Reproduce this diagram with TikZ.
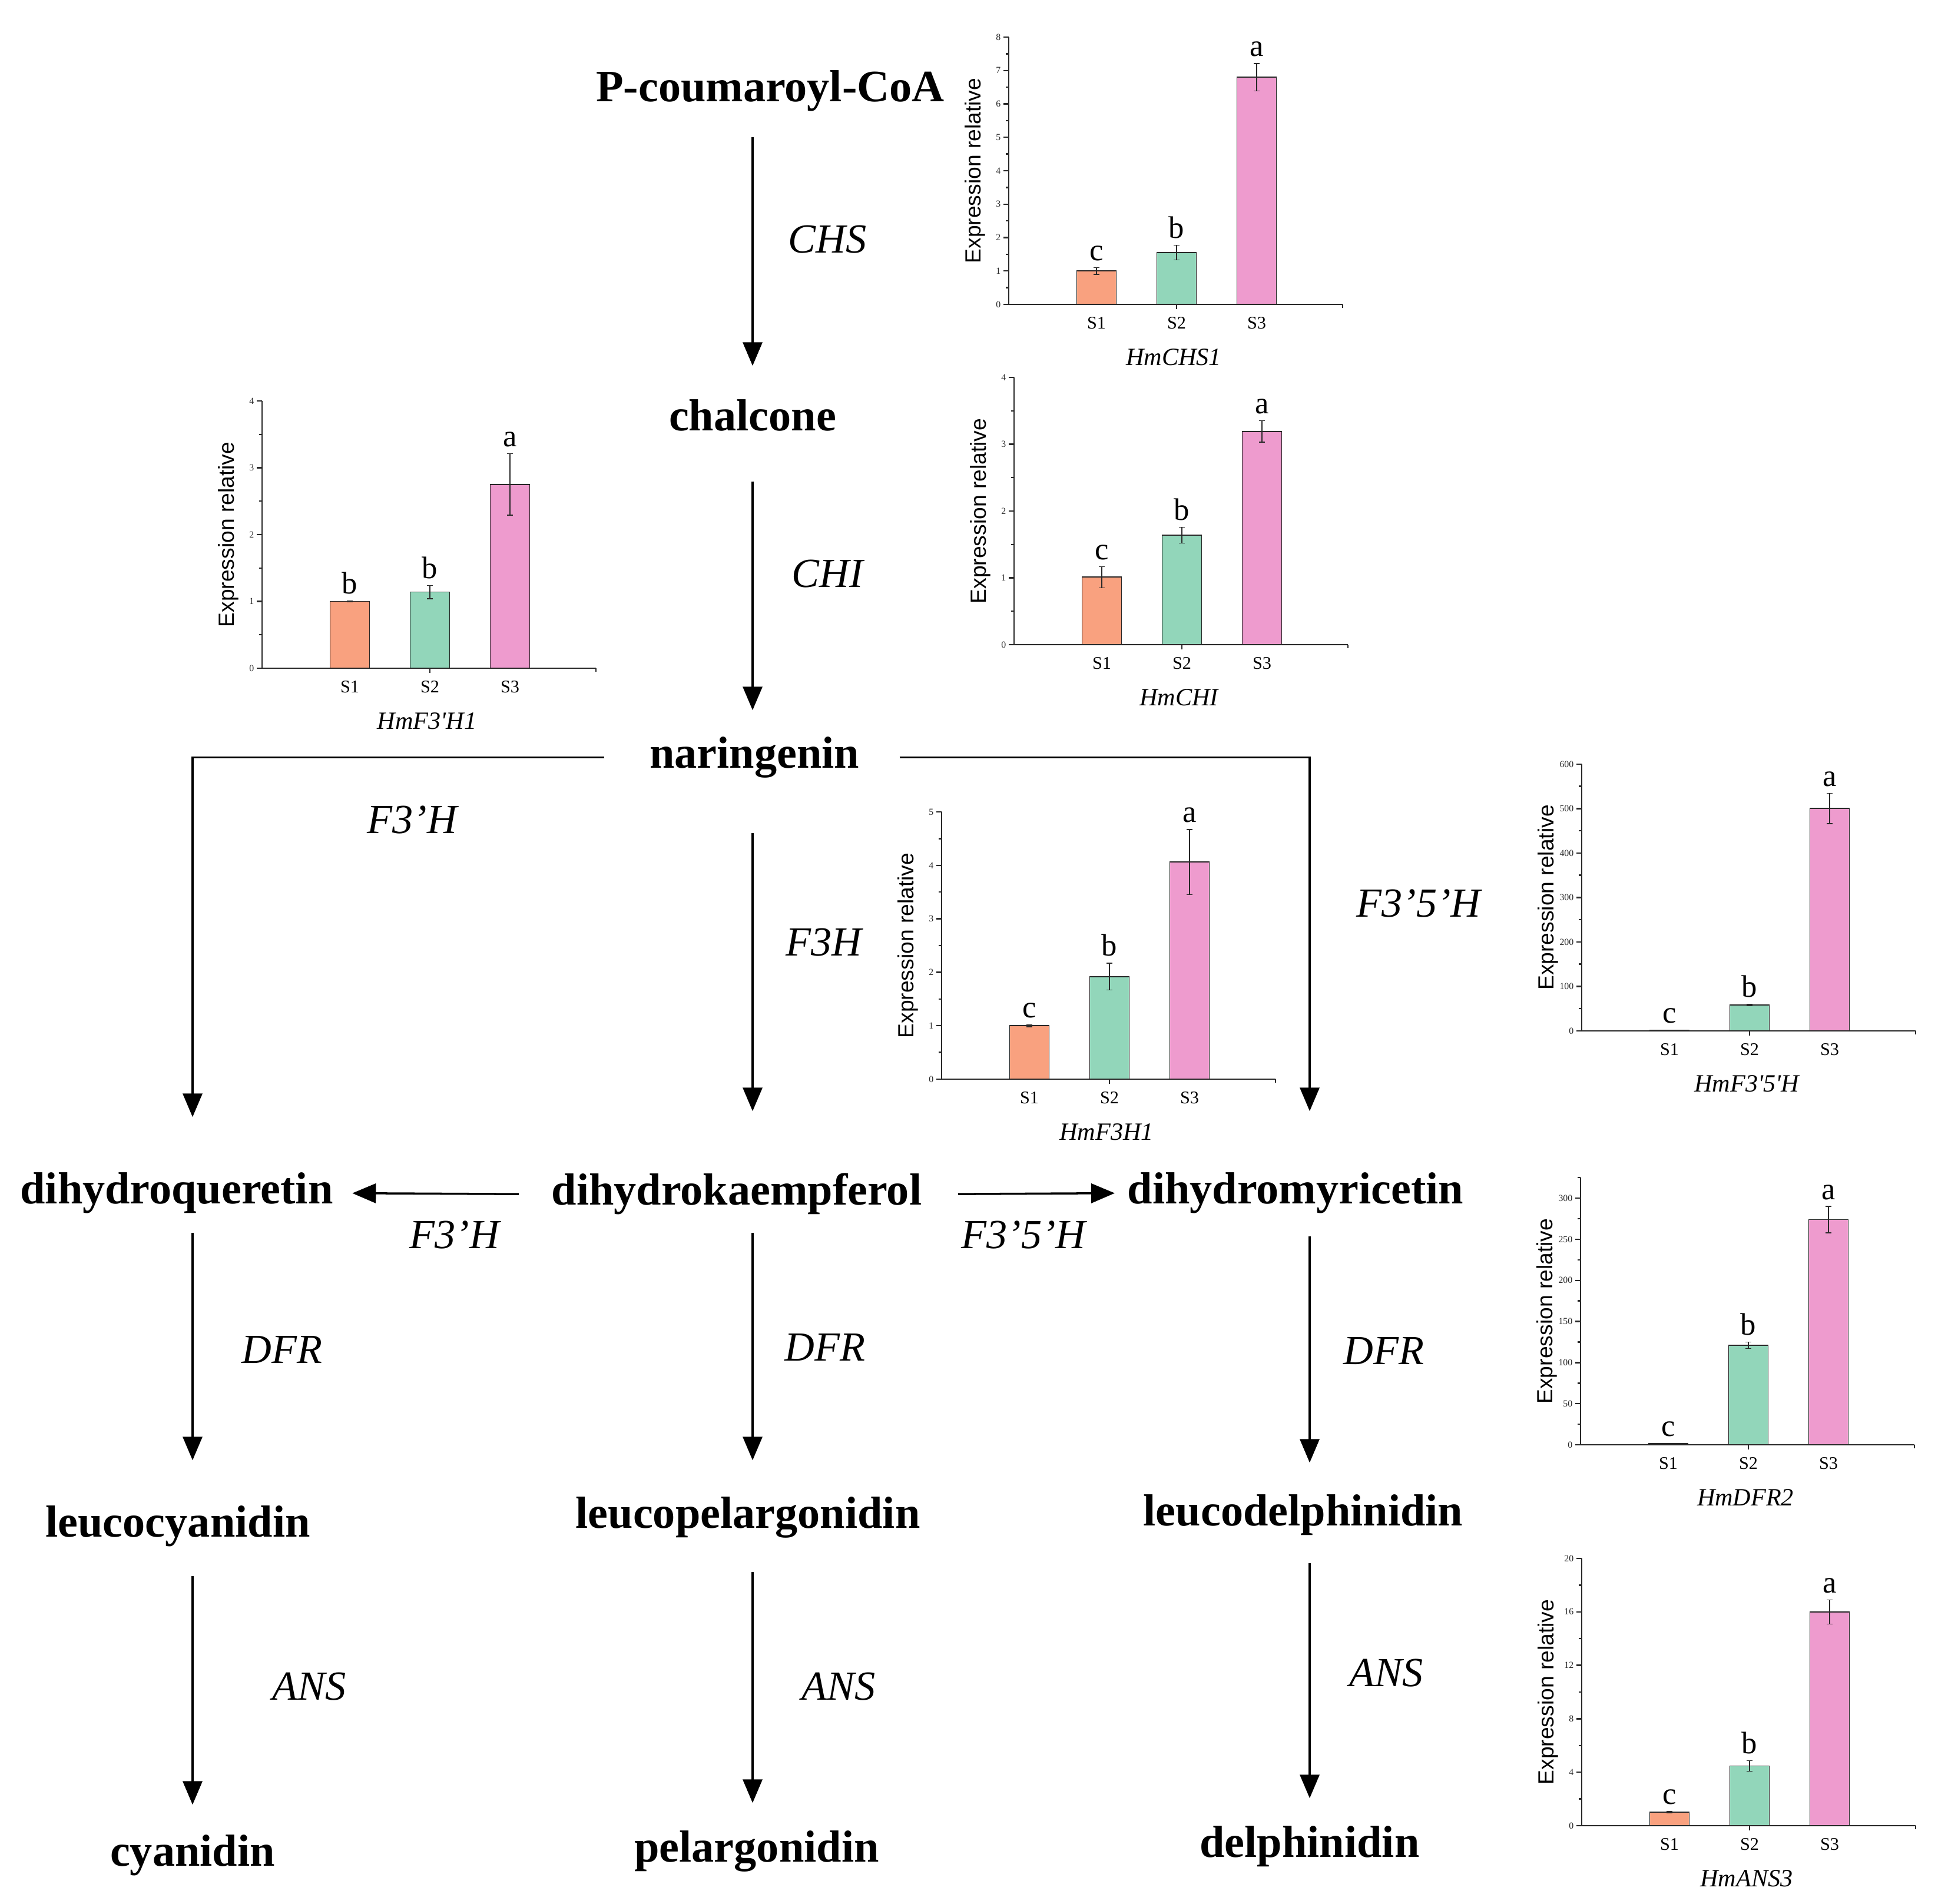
\documentclass[tikz,border=0pt]{standalone}
\usepackage{fontspec}
\setmainfont{Liberation Serif}
\newfontfamily\axisfont{Liberation Sans}
\usepackage{xcolor}
\usetikzlibrary{arrows.meta}
\usetikzlibrary{calc}

\definecolor{barcol1}{RGB}{249,161,127}
\definecolor{barcol2}{RGB}{146,214,186}
\definecolor{barcol3}{RGB}{238,155,206}
\definecolor{axisgray}{RGB}{40,40,40}

\begin{document}
\begin{tikzpicture}[compound/.style={font=\fontsize{21.7}{26}\selectfont\bfseries,inner sep=0pt,text height=0.52cm,text depth=0.17cm,anchor=base},
  enzyme/.style={font=\fontsize{20}{24}\selectfont\itshape,inner sep=0pt},
  flux/.style={line width=1pt,-{Triangle[length=0.4cm,width=0.33cm]}},
  axis/.style={line width=0.7pt,axisgray},
  bar/.style={line width=0.5pt,draw=axisgray},
  errbar/.style={line width=0.4pt,axisgray},
  sig/.style={font=\fontsize{15}{17}\selectfont,inner sep=0pt,anchor=base},
  slab/.style={font=\fontsize{8.6}{10}\selectfont,inner sep=0pt},
  gene/.style={font=\fontsize{12}{14}\selectfont\itshape,inner sep=0pt},
  ylab/.style={font=\axisfont\fontsize{10.6}{12}\selectfont,inner sep=0pt},
  ticklab/.style={font=\fontsize{4.5}{5}\selectfont,inner sep=1pt}]
\useasboundingbox (0,0) rectangle (33.08,-32.34);
\newcommand{\ExprChart}[7]{% #1 id, #2 origin, #3 ymax, #4 major step, #5 minor step, #6 value/error/letter, #7 gene
  \begin{scope}[shift={#2}]
  \pgfmathsetmacro{\yunit}{4.54/#3}
  \begin{scope}[y=\yunit cm]
  \foreach \bv/\be/\bl [count=\i] in {#6} {
    \pgfmathsetmacro{\bx}{0.13+1.36*\i}
    \draw[bar,fill=barcol\i] (\bx-0.335,0) rectangle (\bx+0.335,\bv); %bar
    \draw[errbar] (\bx,{\bv-\be}) -- (\bx,{\bv+\be}); %error
    \draw[errbar] (\bx-0.05,{\bv+\be}) -- (\bx+0.05,{\bv+\be});
    \draw[errbar] (\bx-0.05,{\bv-\be}) -- (\bx+0.05,{\bv-\be});
    \node[sig,yshift=0.12cm] (#1-sig\i) at (\bx,{\bv+\be}) {\bl};
    \node[slab,yshift=-0.32cm] (#1-s\i) at (\bx,0) {S\i};
  }
  \foreach \t in {0,#5,...,#3} \draw[axis] (0,\t) -- ++(-0.05cm,0); %minor ticks
  \foreach \t in {0,#4,...,#3} \draw[axis] (0,\t) -- ++(-0.09cm,0) node[ticklab,left] {\t};
  \draw[axis] (0,#3) -- (0,0) -- (5.67,0); %axes
  \draw[axis] (2.85,0) -- ++(0,-0.08cm);
  \draw[axis] (5.67,0) -- ++(0,-0.06cm);
  \node[ylab,rotate=90] (#1-ylab) at (-0.57,#3/2) {Expression relative};
  \node[gene,yshift=-0.9cm] (#1-gene) at (2.8,0) {#7};
  \end{scope}
  \end{scope}}

% compounds
\node[compound] (pcoa) at (13.08,-1.73) {P-coumaroyl-CoA};
\node[compound] (chal) at (12.78,-7.32) {chalcone};
\node[compound] (nar) at (12.81,-13.04) {naringenin};
\node[compound] (dhq) at (3.00,-20.44) {dihydroqueretin};
\node[compound] (dhk) at (12.51,-20.46) {dihydrokaempferol};
\node[compound] (dhm) at (22.00,-20.44) {dihydromyricetin};
\node[compound] (leuc) at (3.02,-26.10) {leucocyanidin};
\node[compound] (leup) at (12.70,-25.95) {leucopelargonidin};
\node[compound] (leud) at (22.13,-25.91) {leucodelphinidin};
\node[compound] (cya) at (3.27,-31.69) {cyanidin};
\node[compound] (pel) at (12.85,-31.62) {pelargonidin};
\node[compound] (del) at (22.24,-31.54) {delphinidin};

% enzymes
\node[enzyme] (e-chs) at (14.05,-4.07) {CHS};
\node[enzyme] (e-chi) at (14.05,-9.75) {CHI};
\node[enzyme] (e-fth) at (7.00,-13.92) {F3’H};
\node[enzyme] (e-fh) at (13.99,-16.01) {F3H};
\node[enzyme] (e-ffh) at (24.09,-15.34) {F3’5’H};
\node[enzyme] (e-fthb) at (7.72,-20.97) {F3’H};
\node[enzyme] (e-ffhb) at (17.38,-20.97) {F3’5’H};
\node[enzyme] (e-dfr1) at (4.79,-22.93) {DFR};
\node[enzyme] (e-dfr2) at (14.01,-22.89) {DFR};
\node[enzyme] (e-dfr3) at (23.50,-22.95) {DFR};
\node[enzyme] (e-ans1) at (5.25,-28.65) {ANS};
\node[enzyme] (e-ans2) at (14.24,-28.65) {ANS};
\node[enzyme] (e-ans3) at (23.54,-28.42) {ANS};

% main route
\draw[flux,shorten <=0.42cm,shorten >=0.58cm] (pcoa.south -| chal) -- (chal.north); %CHS
\draw[flux,shorten <=0.68cm,shorten >=0.45cm] (chal.south) -- (nar.north -| chal); %CHI
\draw[flux,shorten <=0.93cm,shorten >=1.06cm] (nar.south -| chal) -- (dhk.north -| chal); %F3H
\draw[flux,shorten <=0.76cm,shorten >=0.94cm] (nar.west) -| (dhq.north -| cya); %F3'H
\draw[flux,shorten <=0.68cm,shorten >=1.04cm] (nar.east) -| (dhm.north -| del); %F3'5'H
\draw[flux,shorten <=0.55cm,shorten >=0.32cm] (dhk.west) -- (dhq.east);
\draw[flux,shorten <=0.61cm,shorten >=0.21cm] (dhk.east) -- (dhm.west);
% DFR
\draw[flux,shorten <=0.32cm,shorten >=0.77cm] (dhq.south -| cya) -- (leuc.north -| cya);
\draw[flux,shorten <=0.30cm,shorten >=0.62cm] (dhk.south -| chal) -- (leup.north -| chal);
\draw[flux,shorten <=0.38cm,shorten >=0.54cm] (dhm.south -| del) -- (leud.north -| del);
% ANS
\draw[flux,shorten <=0.49cm,shorten >=0.51cm] (leuc.south -| cya) -- (cya.north);
\draw[flux,shorten <=0.57cm,shorten >=0.47cm] (leup.south -| chal) -- (pel.north -| chal);
\draw[flux,shorten <=0.46cm,shorten >=0.47cm] (leud.south -| del) -- (del.north);

% expression charts
\ExprChart{chs}{(17.13,-5.17)}{8}{1}{0.5}{1.0/0.1/c, 1.55/0.22/b, 6.8/0.41/a}{HmCHS1}
\ExprChart{chi}{(17.22,-10.95)}{4}{1}{0.5}{1.01/0.16/c, 1.64/0.12/b, 3.19/0.16/a}{HmCHI}
\ExprChart{fth}{(4.45,-11.35)}{4}{1}{0.5}{1.0/0.005/b, 1.14/0.1/b, 2.75/0.46/a}{HmF3\textquotesingle H1}
\ExprChart{fh}{(15.99,-18.33)}{5}{1}{0.5}{1.0/0.02/c, 1.92/0.25/b, 4.06/0.61/a}{HmF3H1}
\ExprChart{ffh}{(26.86,-17.51)}{600}{100}{50}{1.5/0/c, 58/2/b, 500/34/a}{HmF3\textquotesingle 5\textquotesingle H}
\ExprChart{dfr}{(26.84,-24.54)}{325}{50}{25}{1.5/0/c, 121/4/b, 274/16/a}{HmDFR2}
\ExprChart{ans}{(26.86,-31.01)}{20}{4}{2}{1.01/0.05/c, 4.47/0.4/b, 16/0.9/a}{HmANS3}
\end{tikzpicture}
\end{document}
